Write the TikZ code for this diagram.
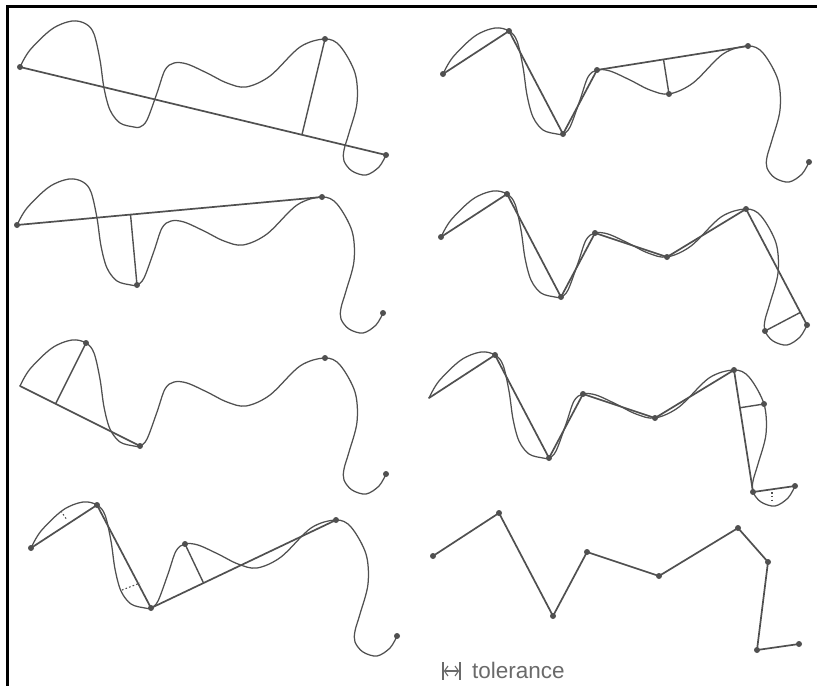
\documentclass[tikz,border=0pt]{standalone}
\usepackage{fontspec}
\setmainfont{Liberation Sans}
\usetikzlibrary{calc,arrows.meta}
\definecolor{ink}{HTML}{505050}
\definecolor{txtgray}{HTML}{6A6A6A}
\tikzset{
  wave/.style={draw=ink, line width=1.25pt, line join=round},
  chord/.style={draw=ink, line width=1.7pt, line cap=round},
  perp/.style={draw=ink, line width=1.4pt},
  tol/.style={draw=ink, line width=1.1pt, dash pattern=on 1.6pt off 2.2pt},
  frame/.style={draw=black, line width=2.5pt},
}
\newcommand\drawwave{\draw[wave] plot[smooth,tension=0.55] coordinates {(20,67) (30,50) (52,29) (72,21) (86,24) (94,34) (100,60) (104,88) (110,110) (120,123) (134,127) (140,127) (147,120) (157,93) (165,70) (174,63) (187,64) (207,73) (227,83) (246,87) (270,76) (300,47) (325,39) (340,46) (355,73) (357,103) (349,133) (344,150) (344,161) (352,171) (366,175) (379,167) (386,155)};}
\newcommand\setpts[1]{%
  \coordinate (#1S) at (20,67);
  \coordinate (#1A) at (86,24);
  \coordinate (#1B) at (140,127);
  \coordinate (#1C) at (174,63);
  \coordinate (#1D) at (246,87);
  \coordinate (#1E) at (325,39);
  \coordinate (#1F) at (355,73);
  \coordinate (#1G) at (344,161);
  \coordinate (#1H) at (386,155);}
\newcommand\markpts[1]{\foreach \p in {#1}{\fill[ink] (\p) circle[radius=3pt];}}
\begin{document}
\begin{tikzpicture}[x=1pt,y=-1pt]
\useasboundingbox (0,0) rectangle (817,686);
\fill[white] (0,0) rectangle (817,686);
\draw[frame] (817,6.5) -- (7.5,6.5) -- (7.5,686);

% ---- L1
\begin{scope}[shift={(0,0)}]
  \drawwave
  \setpts{la}
  \draw[chord] (laS) -- (laH);
  \coordinate (laP) at ($(laS)!(laE)!(laH)$);
  \draw[perp] (laE) -- (laP);
  \markpts{laS,laE,laH}
\end{scope}

% ---- L2
\begin{scope}[shift={(-3,158)}]
  \drawwave
  \setpts{lb}
  \draw[chord] (lbS) -- (lbE);
  \coordinate (lbP) at ($(lbS)!(lbB)!(lbE)$);
  \draw[perp] (lbB) -- (lbP);
  \markpts{lbS,lbB,lbE,lbH}
\end{scope}

% ---- L3
\begin{scope}[shift={(0,319)}]
  \drawwave
  \setpts{lc}
  \draw[chord] (lcS) -- (lcB);
  \coordinate (lcP) at ($(lcS)!(lcA)!(lcB)$);
  \draw[perp] (lcA) -- (lcP);
  \markpts{lcA,lcB,lcE,lcH}
\end{scope}

% ---- L4
\begin{scope}[shift={(11,481)}]
  \drawwave
  \setpts{ld}
  \draw[chord] (ldS) -- (ldA) -- (ldB) -- (ldE);
  \coordinate (ldP) at ($(ldB)!(ldC)!(ldE)$);
  \draw[perp] (ldC) -- (ldP);
  \coordinate (ldT1) at (50,30);
  \coordinate (ldT2) at (56,39);
  \draw[tol] (ldT1) -- (ldT2);
  \coordinate (ldU1) at (111,109);
  \coordinate (ldU2) at (129,102);
  \draw[tol] (ldU1) -- (ldU2);
  \markpts{ldS,ldA,ldB,ldC,ldE,ldH}
\end{scope}

% ---- R1
\begin{scope}[shift={(423,7)}]
  \drawwave
  \setpts{ra}
  \draw[chord] (raS) -- (raA) -- (raB) -- (raC) -- (raE);
  \coordinate (raP) at ($(raC)!(raD)!(raE)$);
  \draw[perp] (raD) -- (raP);
  \markpts{raS,raA,raB,raC,raD,raE,raH}
\end{scope}

% ---- R2
\begin{scope}[shift={(421,170)}]
  \drawwave
  \setpts{rb}
  \draw[chord] (rbS) -- (rbA) -- (rbB) -- (rbC) -- (rbD) -- (rbE) -- (rbH);
  \coordinate (rbP) at ($(rbE)!(rbG)!(rbH)$);
  \draw[perp] (rbG) -- (rbP);
  \markpts{rbS,rbA,rbB,rbC,rbD,rbE,rbG,rbH}
\end{scope}

% ---- R3
\begin{scope}[shift={(409,331)}]
  \drawwave
  \setpts{rc}
  \draw[chord] (rcS) -- (rcA) -- (rcB) -- (rcC) -- (rcD) -- (rcE) -- (rcG) -- (rcH);
  \coordinate (rcP) at ($(rcE)!(rcF)!(rcG)$);
  \draw[perp] (rcF) -- (rcP);
  \coordinate (rcT1) at (363,161);
  \coordinate (rcT2) at (363,172);
  \draw[tol] (rcT1) -- (rcT2);
  \markpts{rcA,rcB,rcC,rcD,rcE,rcF,rcG,rcH}
\end{scope}

% ---- R4
\begin{scope}[shift={(413,489)}]
  \setpts{rd}
  \draw[chord] (rdS) -- (rdA) -- (rdB) -- (rdC) -- (rdD) -- (rdE) -- (rdF) -- (rdG) -- (rdH);
  \markpts{rdS,rdA,rdB,rdC,rdD,rdE,rdF,rdG,rdH}
\end{scope}

% ---- tolerance legend
\coordinate (tl1) at (443,662);
\coordinate (tl2) at (443,680);
\coordinate (tr1) at (460,662);
\coordinate (tr2) at (460,680);
\draw[draw=txtgray, line width=1.4pt] (tl1) -- (tl2);
\draw[draw=txtgray, line width=1.4pt] (tr1) -- (tr2);
\coordinate (tm1) at (443.8,671);
\coordinate (tm2) at (459.2,671);
\draw[draw=txtgray, line width=1.1pt, {Straight Barb[length=3.5pt,width=10pt]}-{Straight Barb[length=3.5pt,width=10pt]}] (tm1) -- (tm2);
\node[anchor=base west, inner sep=0pt, text=txtgray, font=\fontsize{22.5}{22.5}\selectfont] (toltext) at (472,678) {tolerance};
\end{tikzpicture}
\end{document}
